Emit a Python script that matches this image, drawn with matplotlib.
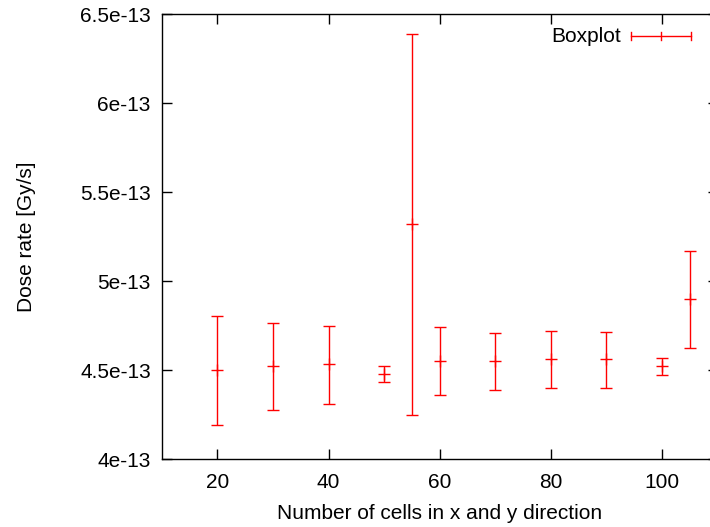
import matplotlib
matplotlib.use("Agg")
import matplotlib.pyplot as plt
from matplotlib.lines import Line2D

plt.rcParams["font.family"] = ["Liberation Sans", "DejaVu Sans"]

# data (dose rate in units of 1e-13 Gy/s)
cells = [20, 30, 40, 50, 55, 60, 70, 80, 90, 100, 105]
center = [4.50, 4.52, 4.535, 4.48, 5.32, 4.55, 4.55, 4.56, 4.56, 4.52, 4.90]
low = [4.19, 4.275, 4.31, 4.43, 4.245, 4.36, 4.39, 4.40, 4.40, 4.47, 4.625]
high = [4.805, 4.765, 4.75, 4.525, 6.39, 4.74, 4.71, 4.72, 4.715, 4.565, 5.17]

yticks = [4.0, 4.5, 5.0, 5.5, 6.0, 6.5]
ytick_labels = ["4e-13", "4.5e-13", "5e-13", "5.5e-13", "6e-13", "6.5e-13"]
xticks = [20, 40, 60, 80, 100]

red = "#ff0000"
fs = 15

fig = plt.figure(figsize=(7.10, 5.27), dpi=100)
ax = fig.add_axes([0.228, 0.129, 1.0106 - 0.228, 0.9734 - 0.129])

yerr = [[c - l for c, l in zip(center, low)], [h - c for h, c in zip(high, center)]]
ax.errorbar(cells, center, yerr=yerr, fmt="+", color=red, ecolor=red,
            elinewidth=1.0, capsize=4, capthick=1.0, markersize=8, mew=1.0)

ax.set_xlim(10, 110)
ax.set_ylim(4.0, 6.5)
ax.set_xticks(xticks)
ax.set_yticks(yticks)
ax.set_yticklabels(ytick_labels)
ax.tick_params(direction="in", length=7, width=1.0, top=True, right=True,
               labelsize=fs, colors="black")
ax.tick_params(axis="y", pad=8)
ax.tick_params(axis="x", pad=10)
for s in ax.spines.values():
    s.set_linewidth(1.0)

ax.set_xlabel("Number of cells in x and y direction", fontsize=fs, labelpad=9)
ax.set_ylabel("Dose rate [Gy/s]", fontsize=fs, labelpad=32)

# gnuplot-style key in the upper right
fig.text(621 / 710, 1 - 36 / 527, "Boxplot", fontsize=fs, ha="right", va="center")
ky = 1 - 36 / 527
x0, x1 = 631 / 710, 691 / 710
cap = 4 / 527
fig.add_artist(Line2D([x0, x1], [ky, ky], color=red, lw=1.0))
for xx in (x0, x1, (x0 + x1) / 2):
    fig.add_artist(Line2D([xx, xx], [ky - cap, ky + cap], color=red, lw=1.0))

fig.savefig("out.png", dpi=100)
